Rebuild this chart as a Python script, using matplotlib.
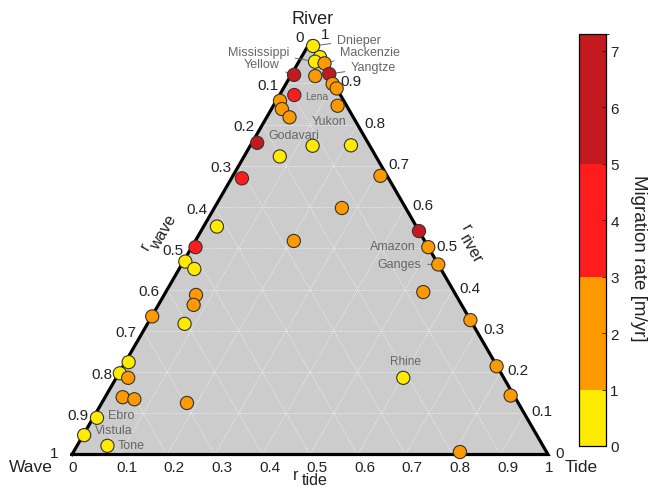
import numpy as np
import matplotlib.pyplot as plt
from matplotlib.colors import ListedColormap, BoundaryNorm
from matplotlib.cm import ScalarMappable

plt.rcParams['font.family'] = ['Liberation Sans', 'DejaVu Sans']

# ternary fractions for each delta (r_wave = 1 - r_river - r_tide)
r_river = [0.991, 0.964, 0.953, 0.949, 0.923, 0.921, 0.918, 0.899, 0.888, 0.872,
           0.858, 0.838, 0.818, 0.846, 0.756, 0.749, 0.750, 0.723, 0.670, 0.676,
           0.598, 0.553, 0.518, 0.503, 0.542, 0.503, 0.468, 0.450, 0.461, 0.394,
           0.387, 0.363, 0.335, 0.317, 0.326, 0.224, 0.197, 0.186, 0.214, 0.186,
           0.143, 0.139, 0.134, 0.125, 0.089, 0.047, 0.021, 0.006]
r_tide = [0.011, 0.039, 0.034, 0.056, 0.079, 0.006, 0.052, 0.098, 0.112, 0.031,
          0.008, 0.022, 0.048, 0.135, 0.011, 0.131, 0.211, 0.075, 0.022, 0.310,
          0.268, 0.028, 0.207, 0.008, 0.458, 0.497, 0.004, 0.032, 0.539, 0.541,
          0.067, 0.074, 0.001, 0.078, 0.674, 0.007, 0.002, 0.025, 0.785, 0.603,
          0.850, 0.037, 0.064, 0.179, 0.008, 0.002, 0.064, 0.812]
migration = [0.6, 0.8, 0.5, 1.5, 5.8, 6.5, 2.2, 1.8, 2.5, 4.2,
             1.9, 2.4, 1.6, 2.1, 5.5, 0.4, 0.7, 0.9, 3.6, 1.3,
             2.0, 0.6, 1.4, 4.5, 5.2, 2.7, 0.3, 0.8, 1.7, 2.3,
             1.2, 2.6, 1.8, 0.5, 2.2, 0.7, 0.4, 1.5, 2.0, 0.6,
             1.9, 2.8, 1.3, 2.4, 0.2, 0.5, 0.3, 1.6]

# named deltas: index into the arrays above
delta_names = ["Dnieper", "Mackenzie", "Yangtze", "Mississippi", "Yellow", "Lena",
               "Yukon", "Godavari", "Amazon", "Ganges", "Rhine", "Ebro",
               "Vistula", "Tone"]
delta_index = [0, 3, 4, 2, 5, 8, 13, 14, 25, 28, 39, 44, 45, 46]
# where each name sits (pixels) and its font size
name_xy = [(359, 40.7), (370, 52.7), (373.7, 68.3), (258.3, 52.7), (261.7, 65),
           (317, 96.7), (329, 121.7), (294, 135.7), (393, 247.3), (399.5, 265),
           (405.5, 361.7), (121, 416), (113.5, 430.7), (131.5, 446)]
name_size = [9, 9, 9, 9, 9, 7.5, 9, 9, 9, 9, 8.5, 9, 9, 9]

bin_edges = [0, 1, 3, 5, 7.3]
bin_colors = ["#FFEB00", "#FF9900", "#FF1C1C", "#C41A1F"]
cbar_ticks = list(range(8))
ternary_ticks = [round(0.1 * k, 1) for k in range(11)]

# triangle geometry, in pixels of the 658x489 canvas
X0, Y0, SIDE = 72.0, 455.5, 476.0
H = np.sqrt(3) / 2


def tern_xy(river, tide):
    river = np.asarray(river, dtype=float)
    tide = np.asarray(tide, dtype=float)
    return X0 + SIDE * (tide + river / 2), Y0 - SIDE * H * river


def sub_label(ax, xy, main, sub, rot, a, b, size=11.5):
    """draw main text with a same-size subscript, rotated by rot degrees"""
    th = np.radians(rot)
    right = np.array([np.cos(th), -np.sin(th)])
    down = np.array([np.sin(th), np.cos(th)])
    p = np.array(xy) + a * right + b * down
    kw = dict(rotation=rot, ha='center', va='center', rotation_mode='anchor',
              fontsize=size, color='#222222')
    ax.text(xy[0], xy[1], main, **kw)
    ax.text(p[0], p[1], sub, **kw)


fig = plt.figure(figsize=(6.58, 4.89), dpi=100)
ax = fig.add_axes([0, 0, 1, 1])
ax.set_xlim(0, 658)
ax.set_ylim(489, 0)
ax.axis('off')

# --- triangle background and grid ---
cx, cy = tern_xy([0, 0, 1], [0, 1, 0])
ax.fill(cx, cy, color='#CCCCCC', zorder=0)
for v in ternary_ticks[1:-1]:
    for rv, td in (([0, 1 - v], [v, v]),          # constant tide
                   ([v, v], [0, 1 - v]),          # constant river
                   ([0, 1 - v], [1 - v, 0])):     # constant wave
        gx, gy = tern_xy(rv, td)
        ax.plot(gx, gy, color='white', lw=0.6, ls=':', alpha=0.9, zorder=1)
ax.plot(np.append(cx, cx[0]), np.append(cy, cy[0]), color='black', lw=2.3,
        solid_joinstyle='miter', zorder=2)

# --- tick labels on the three edges ---
tk = dict(fontsize=11, color='#222222')
for v in ternary_ticks:
    s = f"{v:g}"
    # bottom: r_tide
    x, y = tern_xy(0, v)
    ax.text(x - 3.5, 468, s, ha='left', va='center', **tk)
    # left: r_wave (0 at top)
    x, y = tern_xy(1 - v, 0)
    dx, dy = (-6, -5) if v == 0 else ((-14, -1.5) if v == 1 else (-7.5, 1.5))
    ax.text(x + dx, y + dy, s, ha='right', va='center', **tk)
    # right: r_river (0 at bottom)
    x, y = tern_xy(v, 1 - v)
    dx, dy = (11, -8) if v == 1 else (7, -2)
    ax.text(x + dx, y + dy, s, ha='left', va='center', **tk)

ax.text(313, 20, "River", ha='center', va='center', fontsize=13, color='#222222')
ax.text(53, 468, "Wave", ha='right', va='center', fontsize=12.5, color='#222222')
ax.text(565, 468, "Tide", ha='left', va='center', fontsize=12.5, color='#222222')

sub_label(ax, (145, 246), "r", "wave", 60, 20.5, 9.1)
sub_label(ax, (466, 228), "r", "river", -60, 20.5, 7.1)
sub_label(ax, (296, 475.5), "r", "tide", 0, 19, 5)

# --- data points ---
cmap = ListedColormap(bin_colors)
norm = BoundaryNorm(bin_edges, cmap.N)
px, py = tern_xy(r_river, r_tide)
ax.scatter(px, py, c=migration, cmap=cmap, norm=norm, s=90,
           edgecolors='#333333', linewidths=0.8, zorder=4)

# leaders run to the point centre and hide under the marker
for name, i, (tx, ty), fs in zip(delta_names, delta_index, name_xy, name_size):
    ax.annotate(name, xy=(px[i], py[i]), xytext=(tx, ty), fontsize=fs,
                color='#666666', ha='center', va='center', zorder=3,
                arrowprops=dict(arrowstyle='-', color='#666666', lw=0.7,
                                shrinkA=-2.5, shrinkB=0))

# --- colorbar ---
cax = fig.add_axes([579 / 658, (489 - 447) / 489, 27 / 658, 412 / 489])
cb = fig.colorbar(ScalarMappable(norm=norm, cmap=cmap), cax=cax,
                  ticks=cbar_ticks, spacing='proportional')
cb.outline.set_linewidth(0.9)
cax.tick_params(direction='in', length=3, width=0.6, labelsize=11,
                pad=3, colors='#222222')
cb.set_label('Migration rate [m/yr]', rotation=-90, va='center',
             fontsize=13.5, color='#222222')
cax.yaxis.set_label_coords(2.2, 0.459)

fig.savefig('out.png', dpi=100)
